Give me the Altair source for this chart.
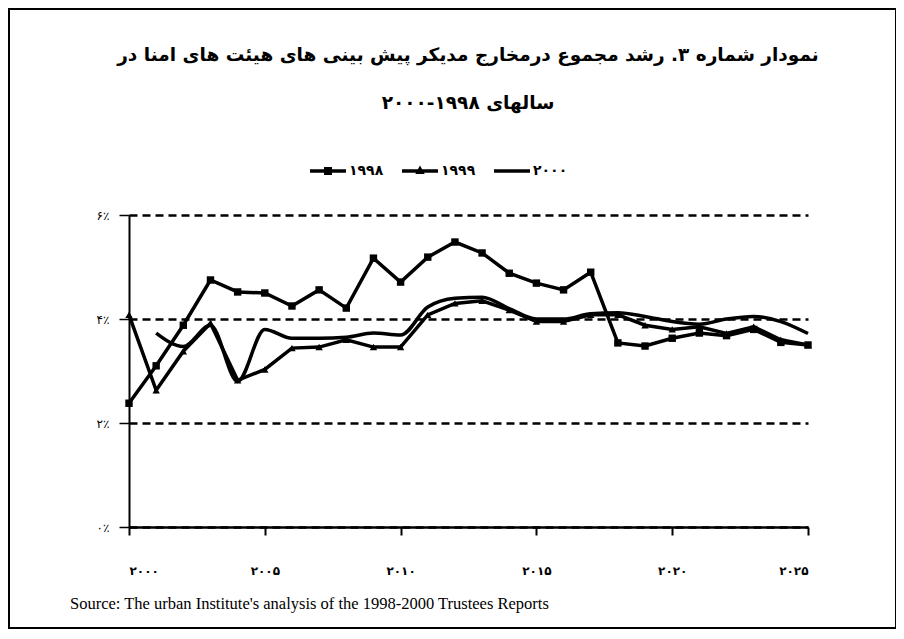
import altair as alt
import pandas as pd

# ---------------- data ----------------
years = list(range(2000, 2026))
s1998 = [2.38, 3.10, 3.88, 4.75, 4.52, 4.50, 4.25, 4.56, 4.21, 5.17, 4.71, 5.19, 5.48,
         5.27, 4.88, 4.69, 4.56, 4.90, 3.54, 3.48, 3.63, 3.73, 3.68, 3.80, 3.55, 3.50]
s1999 = [4.08, 2.63, 3.38, 3.92, 2.82, 3.03, 3.44, 3.46, 3.60, 3.46, 3.46, 4.08, 4.30,
         4.35, 4.17, 3.95, 3.95, 4.08, 4.08, 3.88, 3.80, 3.85, 3.72, 3.85, 3.60, 3.50]
s2000 = [None, 3.73, 3.47, 3.88, 2.80, 3.80, 3.63, 3.63, 3.65, 3.73, 3.69, 4.23, 4.40,
         4.42, 4.20, 4.00, 4.00, 4.10, 4.12, 4.05, 3.95, 3.90, 4.00, 4.05, 3.95, 3.72]
series_names = ["۱۹۹۸", "۱۹۹۹", "۲۰۰۰"]

x_ticks = [2000, 2005, 2010, 2015, 2020, 2025]
x_labels = ["۲۰۰۰", "۲۰۰۵", "۲۰۱۰", "۲۰۱۵", "۲۰۲۰", "۲۰۲۵"]
y_ticks = [0, 2, 4, 6]
y_labels = ["۰٪", "۲٪", "۴٪", "۶٪"]

title_lines = [
    "نمودار شماره ۳. رشد مجموع درمخارج مدیکر پیش بینی های هیئت های امنا در",
    "سالهای ۱۹۹۸-۲۰۰۰",
]
source_text = "Source: The urban Institute's analysis of the  1998-2000  Trustees Reports"

# ---------------- table ----------------
rows = []
for name, vals in zip(series_names, [s1998, s1999, s2000]):
    for yr, v in zip(years, vals):
        if v is not None:
            rows.append({"year": yr, "value": v, "series": name})
df = pd.DataFrame(rows)


def label_expr(ticks, labels):
    expr = "''"
    for t, l in zip(ticks, labels):
        expr = "datum.value == " + str(t) + " ? '" + l + "' : (" + expr + ")"
    return expr


FA = "DejaVu Sans"

x_enc = alt.X(
    "year:Q",
    scale=alt.Scale(domain=[2000, 2025], nice=False, zero=False),
    axis=alt.Axis(values=x_ticks, labelExpr=label_expr(x_ticks, x_labels), title=None,
                  grid=False, domainColor="black", domainWidth=2.5, tickColor="black",
                  tickWidth=2, tickSize=8, labelPadding=30, labelFont=FA,
                  labelFontSize=12, labelFontWeight="bold", labelColor="black"),
)
y_enc = alt.Y(
    "value:Q",
    scale=alt.Scale(domain=[0, 6], nice=False),
    axis=alt.Axis(values=y_ticks, labelExpr=label_expr(y_ticks, y_labels), title=None,
                  grid=True, gridDash=[8, 5], gridColor="black", gridWidth=2.5,
                  domainColor="black", domainWidth=2, tickColor="black", tickWidth=1.5,
                  tickSize=10, labelPadding=10, labelFont=FA, labelFontSize=12,
                  labelColor="black"),
)

base = alt.Chart(df)

lines_a = base.transform_filter(alt.datum.series != "۲۰۰۰").mark_line(
    color="black", strokeWidth=3.5).encode(x=x_enc, y=y_enc, detail="series:N")
lines_b = base.transform_filter(alt.datum.series == "۲۰۰۰").mark_line(
    color="black", strokeWidth=3.5, interpolate="monotone").encode(x="year:Q", y="value:Q")

points = base.transform_filter(alt.datum.series != "۲۰۰۰").mark_point(
    filled=True, color="black", size=55, opacity=1).encode(
    x="year:Q", y="value:Q",
    shape=alt.Shape("series:N",
                    scale=alt.Scale(domain=series_names[:2], range=["square", "triangle-up"]),
                    legend=None),
)

sym_sq = "M-1,-0.1H1V0.1H-1Z M-0.22,-0.22H0.22V0.22H-0.22Z"
sym_tr = "M-1,-0.1H1V0.1H-1Z M0,-0.3L0.26,0.16H-0.26Z"
sym_ln = "M-1,-0.1H1V0.1H-1Z"

legend_layer = base.mark_point(filled=True, color="black", opacity=0).encode(
    x="year:Q", y="value:Q",
    shape=alt.Shape("series:N",
                    scale=alt.Scale(domain=series_names, range=[sym_sq, sym_tr, sym_ln]),
                    legend=alt.Legend(title=None, orient="none", legendX=181, legendY=-62,
                                      direction="horizontal", symbolSize=1296,
                                      symbolOpacity=1, symbolFillColor="black",
                                      symbolStrokeColor="black", symbolStrokeWidth=0,
                                      labelFont=FA, labelFontSize=14,
                                      labelFontWeight="bold", labelColor="black",
                                      labelOffset=3, columnPadding=18)),
)

t1 = alt.Chart(pd.DataFrame({"t": [title_lines[0]]})).mark_text(
    font=FA, fontSize=18.5, fontWeight="bold", color="black", align="center",
    baseline="middle", dir="rtl").encode(x=alt.value(339), y=alt.value(-160), text="t:N")
t2 = alt.Chart(pd.DataFrame({"t": [title_lines[1]]})).mark_text(
    font=FA, fontSize=18.5, fontWeight="bold", color="black", align="center",
    baseline="middle", dir="rtl").encode(x=alt.value(339), y=alt.value(-112), text="t:N")
src = alt.Chart(pd.DataFrame({"t": [source_text]})).mark_text(
    font="Liberation Serif", fontSize=16.5, color="black", align="left",
    baseline="middle").encode(x=alt.value(-59), y=alt.value(389), text="t:N")

frame = alt.Chart(pd.DataFrame({"a": [0]})).mark_rect(
    fill=None, stroke="black", strokeWidth=2).encode(
    x=alt.value(-120), x2=alt.value(767), y=alt.value(-206), y2=alt.value(413))

chart = alt.layer(lines_a, lines_b, points, legend_layer, t1, t2, src, frame).resolve_scale(
    shape="independent"
).properties(
    width=679, height=312,
    autosize=alt.AutoSizeParams(type="none"),
    padding={"left": 121, "top": 207, "right": 88, "bottom": 104},
    background="white",
).configure_view(stroke=None)

chart.save("out.html", embed_options={"renderer": "svg", "actions": False})
